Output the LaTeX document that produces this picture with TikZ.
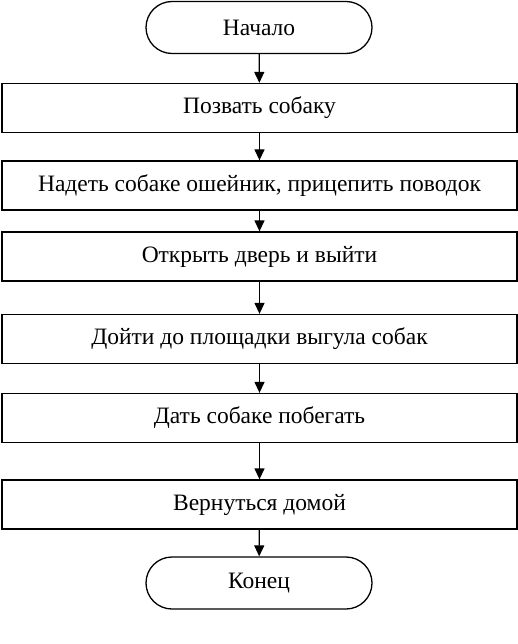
\documentclass[tikz,border=0pt]{standalone}
\usepackage{fontspec}
\setmainfont{Liberation Serif}
\usetikzlibrary{arrows.meta}
\begin{document}
\begin{tikzpicture}[x=1pt,y=-1pt,
  every node/.style={font=\fontsize{23.5}{28}\selectfont, inner sep=0pt},
  term/.style={draw, line width=1.3pt, rounded corners=26pt, minimum width=226pt, minimum height=52pt},
  procbox/.style={draw, line width=1.3pt, minimum width=515pt, minimum height=49pt},
  flow/.style={line width=1.3pt, -{Triangle[length=11pt,width=10pt]}}]
\useasboundingbox (0,0) rectangle (518,644);
\node[term] (start) at (259,27.5) {Начало};
\node[procbox] (b1) at (259.5,108) {Позвать собаку};
\node[procbox] (b2) at (259.5,185.5) {Надеть собаке ошейник, прицепить поводок};
\node[procbox] (b3) at (259.5,256.5) {Открыть дверь и выйти};
\node[procbox] (b4) at (259.5,339) {Дойти до площадки выгула собак};
\node[procbox] (b5) at (259.5,418) {Дать собаке побегать};
\node[procbox] (b6) at (259.5,504.5) {Вернуться домой};
\node[term] (end) at (259,583) {Конец};
\draw[flow] (start) -- (b1);
\draw[flow] (b1) -- (b2);
\draw[flow] (b2) -- (b3);
\draw[flow] (b3) -- (b4);
\draw[flow] (b4) -- (b5);
\draw[flow] (b5) -- (b6);
\draw[flow] (b6) -- (end);
\end{tikzpicture}
\end{document}
